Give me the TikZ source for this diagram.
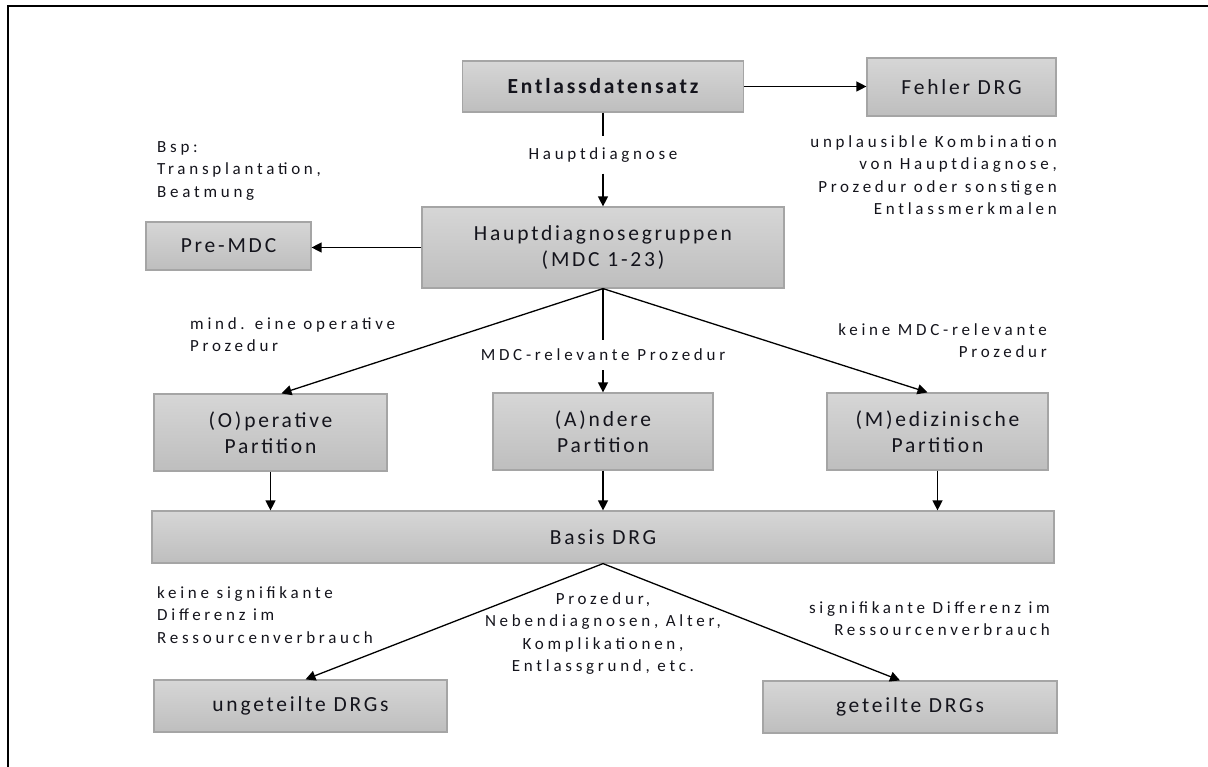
\documentclass[tikz,border=0pt]{standalone}
\usepackage{fontspec}
\setmainfont[LetterSpace=22]{Carlito}
\newfontfamily\boxfam[LetterSpace=13]{Carlito}
\usetikzlibrary{arrows.meta,positioning}

\definecolor{boxtop}{RGB}{214,214,214}
\definecolor{boxbot}{RGB}{190,190,190}
\definecolor{boxline}{RGB}{165,165,165}
\definecolor{txt}{RGB}{20,20,28}

\newcommand\boxfont{\boxfam\fontsize{21.5}{26}\selectfont}
\newcommand\lblfont{\fontsize{17}{22.5}\selectfont}

\tikzset{
  drgbox/.style={draw=boxline, line width=1.2pt, top color=boxtop, bottom color=boxbot,
    text=txt, font=\boxfont, align=center, inner sep=0pt},
  lbl/.style={text=txt, font=\lblfont, inner sep=0pt},
  conn/.style={line width=1.3pt, -{Triangle[length=10pt,width=10pt]}},
  seg/.style={line width=1.3pt}
}

\begin{document}
\begin{tikzpicture}[x=1pt,y=-1pt]
\useasboundingbox (0,0) rectangle (1208,767);

%frame
\draw [line width=1.4pt] (8,767) -- (8,6) -- (1208,6) ;

%boxes
\node [drgbox, minimum width=281, minimum height=51, font=\boxfont\bfseries] (entl) at (603,86.5) {Entlassdatensatz};
\node [drgbox, minimum width=189, minimum height=58] (fehler) at (961.5,87) {Fehler DRG};
\node [drgbox, minimum width=165, minimum height=48] (premdc) at (228.5,246) {Pre-MDC};
\node [drgbox, minimum width=362, minimum height=81] (hdg) at (603,247.5) {Hauptdiagnosegruppen\\(MDC 1-23)};
\node [drgbox, minimum width=233, minimum height=77] (oppart) at (270.5,432.5) {(O)perative\\Partition};
\node [drgbox, minimum width=220, minimum height=77] (andpart) at (603,431.5) {(A)ndere\\Partition};
\node [drgbox, minimum width=221, minimum height=77] (medpart) at (937.5,431.5) {(M)edizinische\\Partition};
\node [drgbox, minimum width=902, minimum height=52] (basis) at (603,537) {Basis DRG};
\node [drgbox, minimum width=293, minimum height=52] (ungeteilt) at (300.5,706) {ungeteilte DRGs};
\node [drgbox, minimum width=294, minimum height=52] (geteilt) at (910,707) {geteilte DRGs};

%labels
\node [lbl, inner ysep=11pt] (hdlbl) at (603,155) {Hauptdiagnose};
\node [lbl, inner ysep=9pt] (mdclbl) at (603,355) {MDC-relevante Prozedur};
\node [lbl, anchor=north west, align=left] (bsp) at (157,141) {Bsp:\\Transplantation,\\Beatmung};
\node [lbl, anchor=north east, align=right] (unpl) at (1057,135) {unplausible Kombination\\von Hauptdiagnose,\\Prozedur oder sonstigen\\Entlassmerkmalen};
\node [lbl, anchor=north west, align=left] (opl) at (190,317) {mind. eine operative\\Prozedur};
\node [lbl, anchor=north east, align=right] (medl) at (1047,323) {keine MDC-relevante\\Prozedur};
\node [lbl, anchor=north west, align=left] (nsig) at (157,586) {keine signifikante\\Differenz im\\Ressourcenverbrauch};
\node [lbl, anchor=north, align=center] (split) at (603,592) {Prozedur,\\Nebendiagnosen, Alter,\\Komplikationen,\\Entlassgrund, etc.};
\node [lbl, anchor=north east, align=right] (sig) at (1050,601) {signifikante Differenz im\\Ressourcenverbrauch};

%connectors
\draw [conn] (entl.east) -- (fehler.west |- entl.east) ;
\draw [seg] (entl.south) -- (hdlbl.north) ;
\draw [conn] (hdlbl.south) -- (hdg.north) ;
\draw [conn] (hdg.west) -- (premdc.east |- hdg.west) ;
\draw [conn] (hdg.south) -- ([xshift=11pt]oppart.north) ;
\draw [seg] (hdg.south) -- (mdclbl.north) ;
\draw [conn] (mdclbl.south) -- (andpart.north) ;
\draw [conn] (hdg.south) -- ([xshift=-10pt]medpart.north) ;
\draw [conn] (oppart.south) -- (oppart.south |- basis.north) ;
\draw [conn] (andpart.south) -- (andpart.south |- basis.north) ;
\draw [conn] (medpart.south) -- (medpart.south |- basis.north) ;
\draw [conn] (basis.south) -- ([xshift=5pt]ungeteilt.north) ;
\draw [conn] (basis.south) -- ([xshift=-10pt]geteilt.north) ;

\end{tikzpicture}
\end{document}
